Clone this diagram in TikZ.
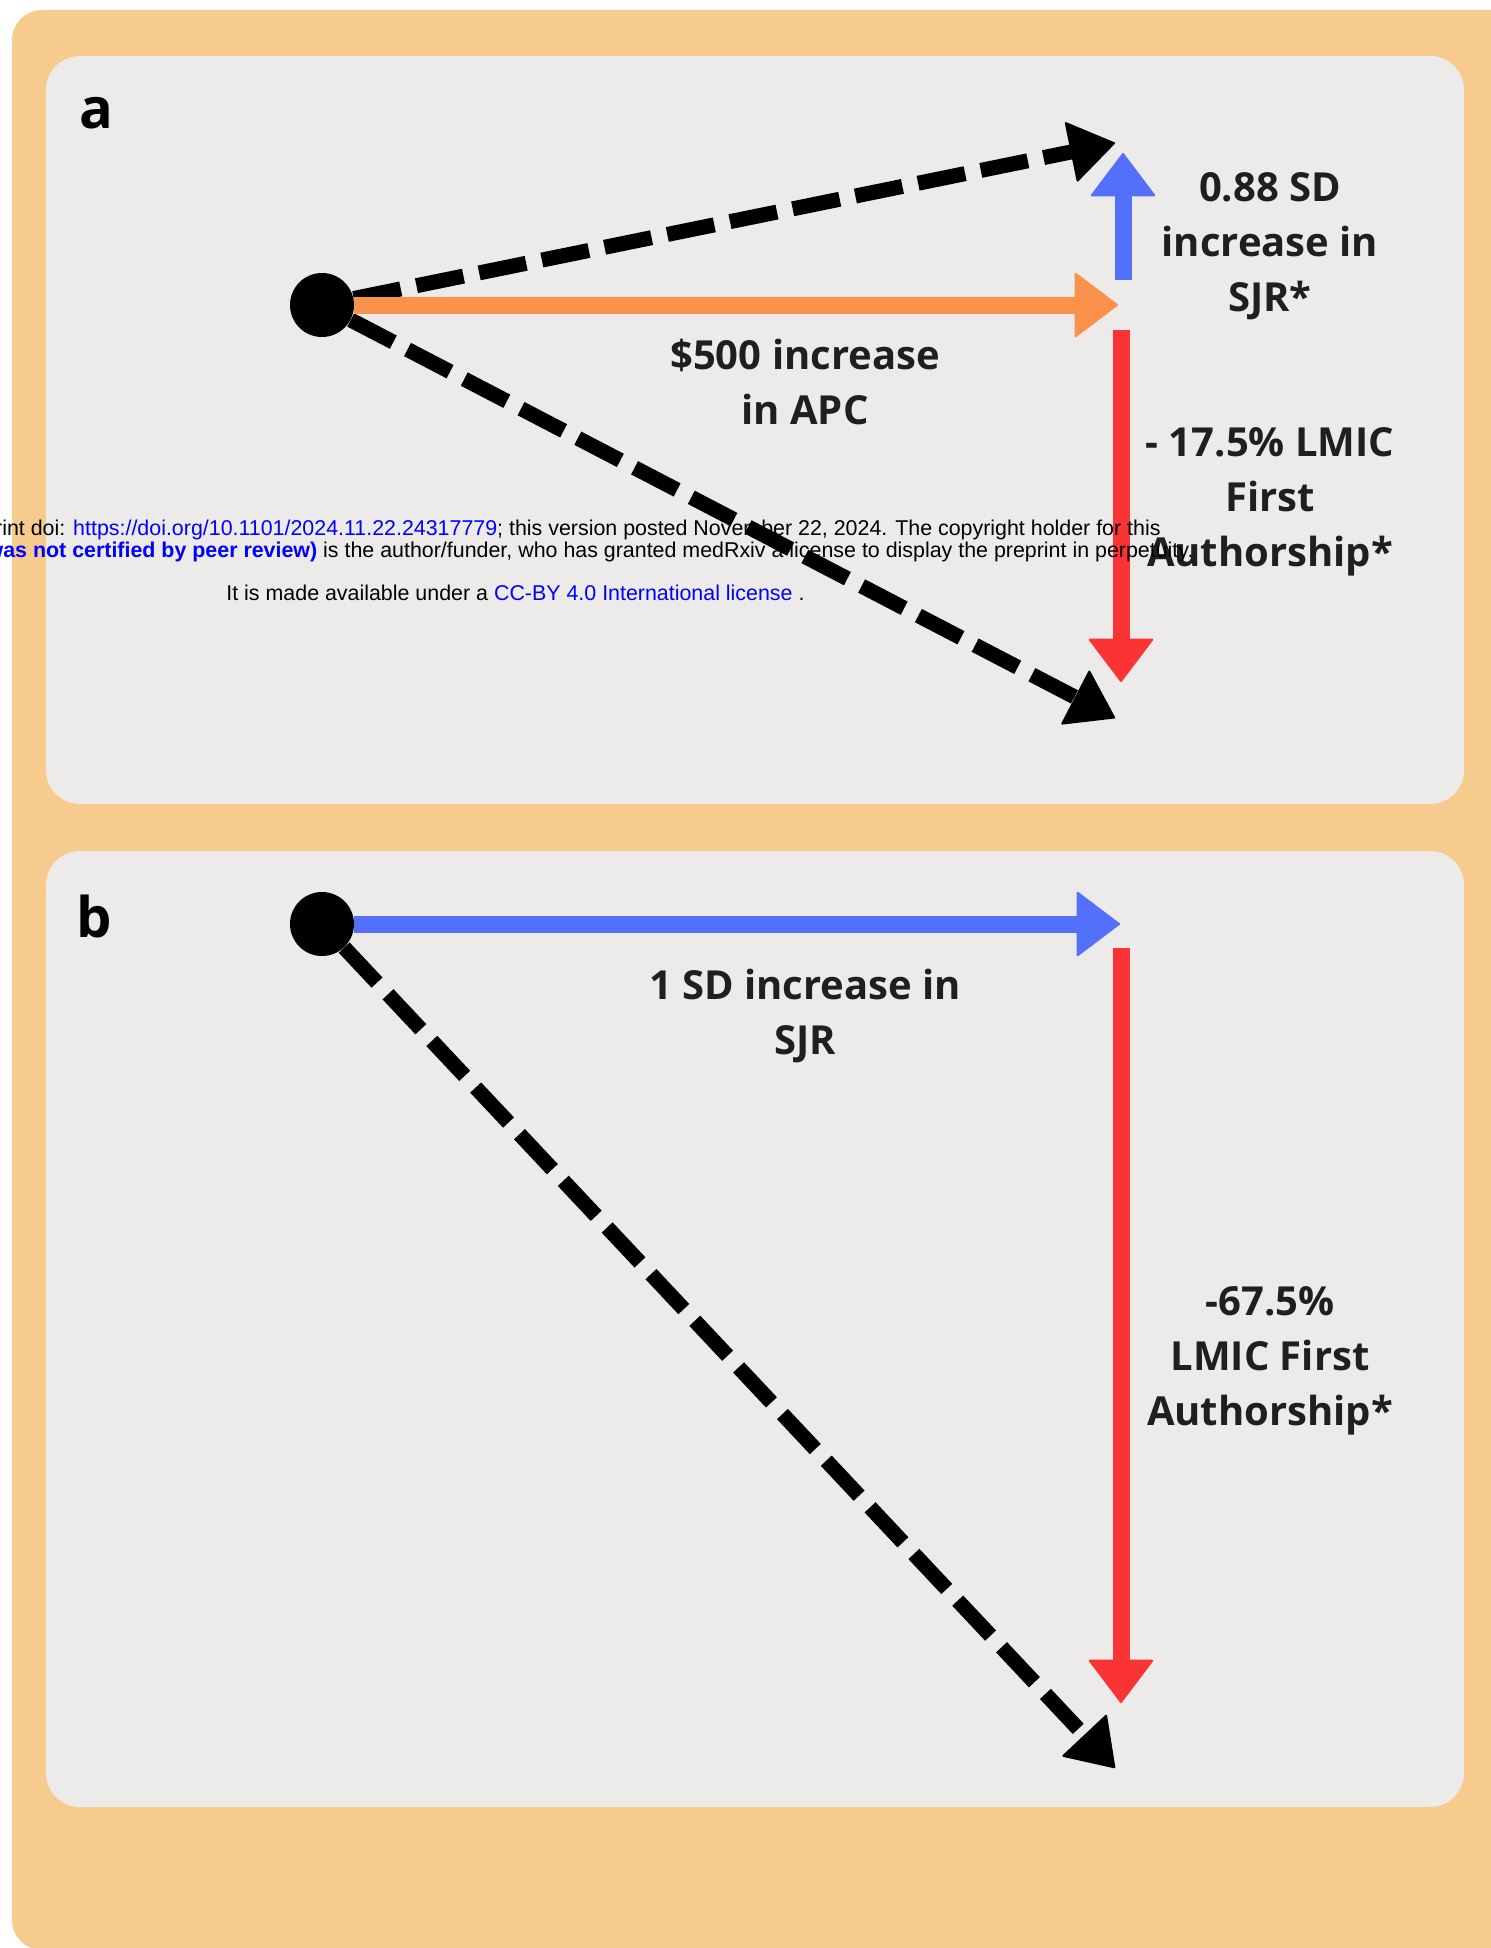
\documentclass[tikz,border=0pt]{standalone}
\usepackage{fontspec}
\setmainfont{Open Sans}
\newfontfamily\stampfont{Liberation Sans}
\usetikzlibrary{arrows.meta, positioning}

\definecolor{frameorange}{RGB}{246,203,141}
\definecolor{panelgray}{RGB}{237,235,233}
\definecolor{apcorange}{RGB}{250,146,76}
\definecolor{sjrblue}{RGB}{82,112,250}
\definecolor{lmicred}{RGB}{250,52,52}
\definecolor{linkblue}{RGB}{0,0,255}

\begin{document}
\begin{tikzpicture}[
        x=0.5pt, y=-0.5pt,
        panel/.style={fill=panelgray, rounded corners=17pt},
        origin/.style={circle, fill=black, minimum size=32pt, inner sep=0pt},
        effect/.style={line width=8.5pt, -{Triangle[width=33pt, length=22pt, round, line width=1pt]}},
        total/.style={line width=7.5pt, dash pattern=on 24pt off 8pt, -{Triangle[width=31pt, length=23pt, round, line width=1pt]}},
        labeltext/.style={font=\fontsize{20}{27.5}\selectfont\bfseries, align=center, text=black!88},
        paneltag/.style={font=\fontsize{28}{30}\selectfont\bfseries, inner sep=0pt, anchor=base west},
        stamp/.style={font=\stampfont\fontsize{10.7}{12}\selectfont, inner sep=0pt}
    ]

    % Page and panels
    \useasboundingbox (0,0) rectangle (1490,1948);
    \fill[white] (0,0) rectangle (1490,1948);
    \fill[frameorange, rounded corners=15pt] (12,10) rectangle (1540,1950);
    \fill[panel] (46,56) rectangle (1464,804);
    \fill[panel] (46,851) rectangle (1464,1807);

    % Panel a
    \node[paneltag] (tagA) at (79,128) {a};
    \node[origin] (dotA) at (322,305) {};
    \coordinate (upA) at (1115,143);
    \coordinate (apcA) at (1118,305);
    \coordinate (downA) at (1115,718);
    \coordinate (sjrStartA) at (1123,280);
    \coordinate (sjrA) at (1123,153);
    \coordinate (lmicStartA) at (1121,330);
    \coordinate (lmicA) at (1121,682);

    \draw[total] (dotA) -- (upA);
    \draw[total] (dotA) -- (downA);
    \draw[effect, apcorange] (dotA) -- (apcA);
    \draw[effect, sjrblue] (sjrStartA) -- (sjrA);
    \draw[effect, lmicred] (lmicStartA) -- (lmicA);

    \node[labeltext] (apcLabel) at (805,382) {\$500 increase\\in APC};
    \node[labeltext] (sjrLabelA) at (1270,246) {0.88 SD\\increase in\\SJR*};
    \node[labeltext] (lmicLabelA) at (1270,502) {- 17.5\% LMIC\\First\\Authorship*};

    % Panel b
    \node[paneltag] (tagB) at (76,937) {b};
    \node[origin] (dotB) at (322,924) {};
    \coordinate (sjrB) at (1120,924);
    \coordinate (lmicStartB) at (1121,948);
    \coordinate (lmicB) at (1121,1703);
    \coordinate (downB) at (1115,1768);

    \draw[total] (dotB) -- (downB);
    \draw[effect, sjrblue] (dotB) -- (sjrB);
    \draw[effect, lmicred] (lmicStartB) -- (lmicB);

    \node[labeltext] (sjrLabelB) at (805,1016) {1 SD increase in\\SJR};
    \node[labeltext] (lmicLabelB) at (1270,1361) {-67.5\%\\LMIC First\\Authorship*};

    % Preprint stamp
    \node[stamp, anchor=east] (stampTop) at (1161,530) {rint doi: \textcolor{linkblue}{https://doi.org/10.1101/2024.11.22.24317779}; this version posted November 22, 2024. The copyright holder for this};
    \node[stamp, anchor=east] (stampMid) at (1194,552) {\textcolor{linkblue}{\bfseries was not certified by peer review)} is the author/funder, who has granted medRxiv a license to display the preprint in perpetuity.};
    \node[stamp, anchor=west] (stampLow) at (226,593) {It is made available under a \textcolor{linkblue}{CC-BY 4.0 International license} .};

\end{tikzpicture}
\end{document}
